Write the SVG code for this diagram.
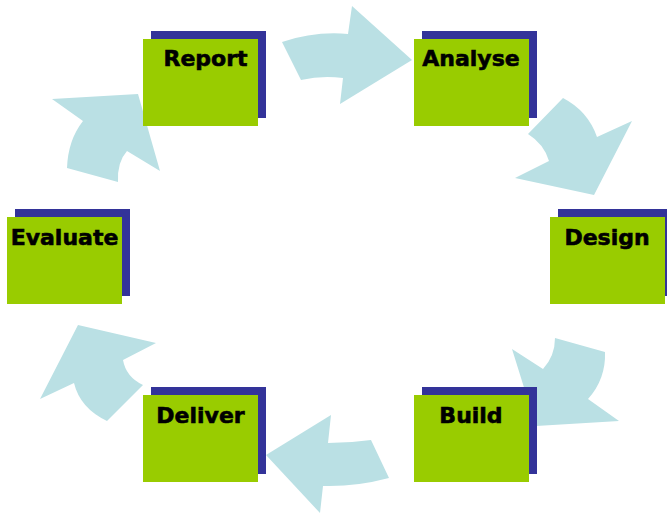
<svg xmlns="http://www.w3.org/2000/svg" width="667" height="516" viewBox="0 0 667 516">
<style>
.arrow{fill:#BAE0E4;stroke:none}
.shadow{fill:#333399}
.box{fill:#99CC00}
.label{font-family:"DejaVu Sans",sans-serif;font-weight:bold;font-size:22px;fill:#000;stroke:#000;stroke-width:0.6;text-anchor:middle}
</style>
<rect width="667" height="516" fill="#ffffff"/>
<g id="connectors">
<path class="arrow" d="M282,42 Q315,31 348,34 L352,6 L412,60 L340,104 L343,78 Q322,75 301,80 Z"/>
<path class="arrow" d="M563,98 Q588,111 597,137 L632,121 L594,195 L515,178 L549,161 Q544,144 528,134 Z"/>
<path class="arrow" d="M555,338 L605,352 Q606,379 588,399 L619,421 L536,426 L512,349 L543,369 Q555,356 555,338 Z"/>
<path class="arrow" d="M266,455 L331,415 L328,443 Q350,443 371,440 L389,478 Q355,487 323,486 L320,513 Z"/>
<path class="arrow" d="M78,325 L156,343 L123,360 Q126,377 143,385 L107,421 Q80,408 74,383 L40,399 Z"/>
<path class="arrow" d="M52,99 L138,94 L160,171 L127,151 Q117,162 118,182 L67,168 Q68,140 83,121 Z"/>
</g>
<g id="report">
<rect class="shadow" x="151" y="31" width="115" height="87"/>
<rect class="box" x="143" y="39" width="115" height="87"/>
<text class="label" x="205.5" y="66">Report</text>
</g>
<g id="analyse">
<rect class="shadow" x="422" y="31" width="115" height="87"/>
<rect class="box" x="414" y="39" width="115" height="87"/>
<text class="label" x="471" y="66">Analyse</text>
</g>
<g id="design">
<rect class="shadow" x="558" y="209" width="115" height="87"/>
<rect class="box" x="550" y="217" width="115" height="87"/>
<text class="label" x="607" y="245">Design</text>
</g>
<g id="build">
<rect class="shadow" x="422" y="387" width="115" height="87"/>
<rect class="box" x="414" y="395" width="115" height="87"/>
<text class="label" x="471" y="423">Build</text>
</g>
<g id="deliver">
<rect class="shadow" x="151" y="387" width="115" height="87"/>
<rect class="box" x="143" y="395" width="115" height="87"/>
<text class="label" x="200.5" y="423">Deliver</text>
</g>
<g id="evaluate">
<rect class="shadow" x="15" y="209" width="115" height="87"/>
<rect class="box" x="7" y="217" width="115" height="87"/>
<text class="label" x="64.5" y="245">Evaluate</text>
</g>
</svg>
